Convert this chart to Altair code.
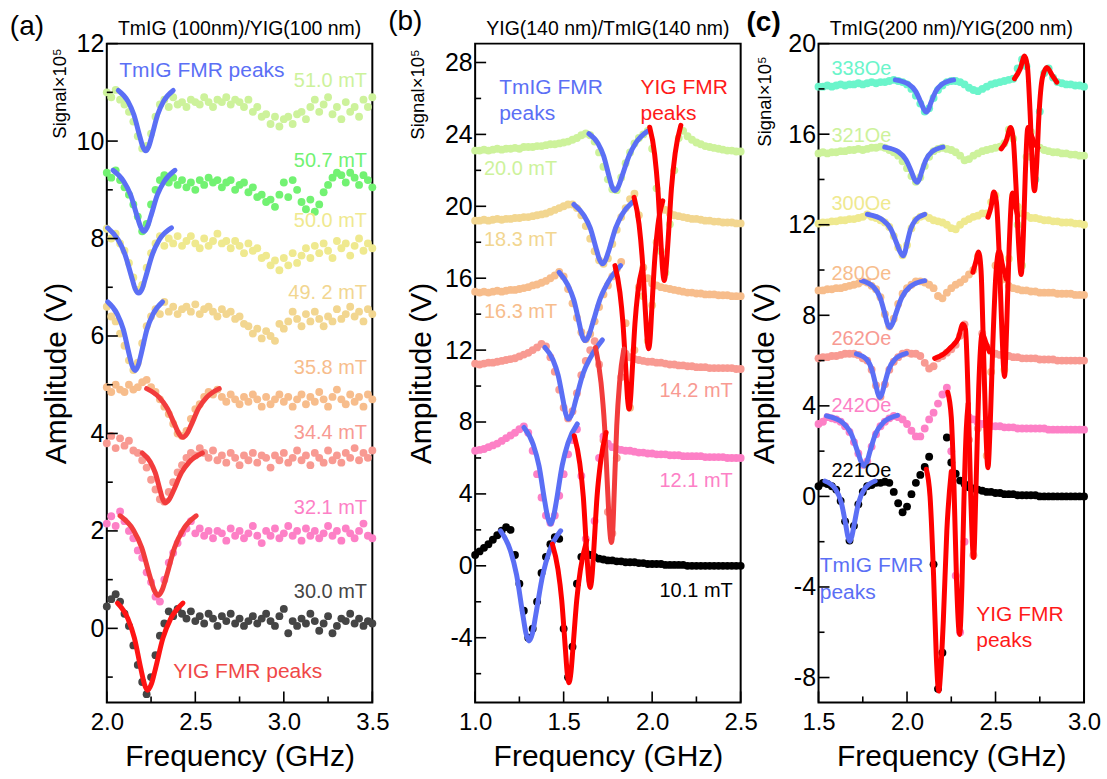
import altair as alt
import pandas as pd

FONT = "Liberation Sans"
BLUE = "#5b6ff5"
RED = "#ff0000"
RED_SOFT = "#f23c3c"
W, H = 266, 660

# ---------------- panel (a) ----------------
FREQ_A = [2.000, 2.025, 2.050, 2.075, 2.100, 2.125, 2.150, 2.175, 2.200, 2.225,
          2.250, 2.275, 2.300, 2.325, 2.350, 2.375, 2.400, 2.425, 2.450, 2.475,
          2.500, 2.525, 2.550, 2.575, 2.600, 2.625, 2.650, 2.675, 2.700, 2.725,
          2.750, 2.775, 2.800, 2.825, 2.850, 2.875, 2.900, 2.925, 2.950, 2.975,
          3.000, 3.025, 3.050, 3.075, 3.100, 3.125, 3.150, 3.175, 3.200, 3.225,
          3.250, 3.275, 3.300, 3.325, 3.350, 3.375, 3.400, 3.425, 3.450, 3.475,
          3.500]
A_510 = [11.0, 10.9, 11.05, 10.85, 10.75, 10.6, 10.4, 10.1, 9.85, 9.9,
         10.15, 10.5, 10.75, 10.85, 10.7, 10.9, 10.75, 10.8, 10.7, 10.85,
         10.8, 10.75, 10.9, 10.8, 10.7, 10.85, 10.8, 10.9, 10.75, 10.85,
         10.8, 10.7, 10.85, 10.6, 10.7, 10.5, 10.55, 10.35, 10.5, 10.3,
         10.45, 10.5, 10.35, 10.55, 10.6, 10.45, 10.7, 10.85, 10.6, 10.75,
         10.9, 10.55, 10.7, 10.45, 10.8, 10.6, 10.7, 10.5, 10.85, 10.7,
         10.9]
A_507 = [9.35, 9.25, 9.4, 9.2, 9.05, 8.9, 8.7, 8.45, 8.15, 8.3,
         8.7, 9.0, 9.2, 9.3, 9.15, 9.25, 9.1, 9.2, 9.05, 9.15,
         9.0, 9.2, 9.1, 9.25, 9.15, 9.2, 9.05, 9.15, 9.2, 9.0,
         9.1, 9.15, 8.95, 9.05, 8.85, 8.9, 8.75, 8.8, 8.65, 8.9,
         9.15, 8.85, 9.2, 9.0, 8.75, 8.6, 8.8, 8.55, 8.7, 8.95,
         9.1, 9.25, 9.35, 9.3, 9.15, 9.35, 9.25, 9.1, 9.3, 9.2,
         9.05]
A_500 = [8.2, 8.0, 8.1, 7.9, 7.75, 7.5, 7.2, 6.95, 7.05, 7.4,
         7.7, 7.9, 8.05, 7.85, 8.0, 7.9, 8.05, 7.85, 7.95, 8.05,
         7.9, 7.8, 8.0, 7.85, 7.95, 8.1, 7.9, 7.95, 7.8, 7.95,
         7.85, 7.7, 7.9, 7.75, 7.8, 7.6, 7.65, 7.45, 7.55, 7.35,
         7.6, 7.45, 7.7, 7.5, 7.65, 7.8, 7.6, 7.85, 7.7, 7.9,
         7.75, 7.6, 7.95, 7.8, 7.9, 7.65, 7.85, 8.0, 7.75, 7.9,
         7.8]
A_492 = [6.6, 6.4, 6.3, 6.05, 5.8, 5.5, 5.3, 5.45, 5.85, 6.2,
         6.4, 6.55, 6.45, 6.7, 6.5, 6.6, 6.45, 6.55, 6.6, 6.5,
         6.65, 6.45, 6.55, 6.6, 6.5, 6.4, 6.55, 6.45, 6.5, 6.35,
         6.4, 6.25, 6.2, 6.05, 6.15, 5.95, 6.1, 6.0, 5.9, 6.25,
         6.15, 6.3, 6.5, 6.35, 6.2, 6.45, 6.3, 6.5, 6.35, 6.2,
         6.4, 6.3, 6.55, 6.35, 6.45, 6.6, 6.4, 6.5, 6.3, 6.55,
         6.45]
A_358 = [4.95, 4.85, 5.0, 4.9, 4.85, 5.0, 4.9, 4.95, 5.05, 5.1,
         4.95, 4.85, 4.7, 4.55, 4.4, 4.2, 4.0, 3.95, 4.05, 4.3,
         4.5, 4.6, 4.75, 4.85, 4.8, 4.9, 4.75, 4.65, 4.8, 4.7,
         4.6, 4.75, 4.65, 4.8, 4.7, 4.55, 4.75, 4.6, 4.7, 4.8,
         4.65, 4.75, 4.55, 4.7, 4.8, 4.6, 4.75, 4.65, 4.85, 4.7,
         4.55, 4.75, 4.9, 4.7, 4.6, 4.8, 4.65, 4.75, 4.55, 4.8,
         4.7]
A_344 = [3.8, 3.95, 3.7, 3.9, 3.75, 3.85, 3.65, 3.6, 3.45, 3.3,
         3.05, 2.85, 2.65, 2.6, 2.8, 3.0, 3.2, 3.35, 3.5, 3.6,
         3.55, 3.7, 3.6, 3.5, 3.65, 3.45, 3.55, 3.4, 3.6, 3.5,
         3.35, 3.55, 3.45, 3.6, 3.4, 3.55, 3.5, 3.3, 3.55, 3.45,
         3.6, 3.4, 3.5, 3.65, 3.45, 3.55, 3.35, 3.6, 3.5, 3.4,
         3.65, 3.45, 3.55, 3.4, 3.6, 3.5, 3.7, 3.45, 3.6, 3.5,
         3.65]
A_321 = [2.15, 2.3, 2.1, 2.4, 2.2, 2.0, 1.85, 1.6, 1.45, 1.15,
         0.95, 0.65, 0.55, 1.0, 1.35, 1.55, 1.75, 1.95, 2.05, 2.2,
         1.95, 2.05, 1.9, 2.0, 1.85, 2.0, 1.95, 1.8, 2.05, 1.9,
         2.0, 1.85, 1.95, 2.1, 1.9, 1.75, 2.0, 1.9, 2.05, 1.85,
         1.95, 2.1, 1.9, 2.0, 1.8, 2.05, 1.9, 2.0, 1.85, 1.95,
         2.1, 1.9, 2.0, 1.8, 2.05, 1.95, 1.85, 2.0, 2.15, 1.9,
         1.85]
A_300 = [0.45, 0.6, 0.7, 0.55, 0.3, 0.05, -0.35, -0.75, -1.1, -1.35,
         -1.0, -0.55, -0.15, 0.1, 0.35, 0.25, 0.4, 0.3, 0.2, 0.35,
         0.15, 0.25, 0.1, 0.3, 0.2, 0.05, 0.25, 0.15, 0.3, 0.1,
         0.2, 0.05, 0.15, 0.25, 0.1, 0.2, 0.3, 0.15, 0.05, 0.25,
         0.4, -0.1, 0.15, 0.05, 0.2, 0.1, 0.3, 0.15, -0.05, 0.1,
         0.25, -0.1, 0.05, 0.2, 0.15, 0.3, 0.1, 0.2, 0.05, 0.15,
         0.1]
A_NAMES = ["51.0 mT", "50.7 mT", "50.0 mT", "49. 2 mT", "35.8 mT", "34.4 mT", "32.1 mT", "30.0 mT"]
A_COLORS = ["#cdf29b", "#72f272", "#efe98f", "#f2d690", "#f7bd8c", "#f89a92", "#fd80c6", "#454545"]
A_LABEL_F = [3.47] * 8
A_LABEL_V = [11.23, 9.59, 8.36, 6.89, 5.35, 4.0, 2.48, 0.74]

A1_F = [2.065, 2.119, 2.153, 2.186, 2.203, 2.22, 2.237, 2.254, 2.287, 2.321, 2.375]
A1_V = [11.04, 10.82, 10.54, 10.10, 9.89, 9.80, 9.89, 10.10, 10.54, 10.82, 11.04]
A2_F = [2.035, 2.096, 2.134, 2.172, 2.191, 2.21, 2.229, 2.248, 2.286, 2.324, 2.385]
A2_V = [9.40, 9.17, 8.90, 8.45, 8.24, 8.15, 8.24, 8.45, 8.90, 9.17, 9.40]
A3_F = [2.005, 2.063, 2.102, 2.141, 2.16, 2.18, 2.2, 2.219, 2.258, 2.297, 2.365]
A3_V = [8.22, 7.98, 7.68, 7.20, 6.97, 6.88, 6.97, 7.20, 7.68, 7.98, 8.22]
A4_F = [2.005, 2.059, 2.093, 2.126, 2.143, 2.16, 2.177, 2.194, 2.227, 2.261, 2.315]
A4_V = [6.70, 6.45, 6.14, 5.63, 5.39, 5.29, 5.39, 5.63, 6.14, 6.45, 6.70]
A5_F = [2.225, 2.296, 2.341, 2.386, 2.408, 2.43, 2.452, 2.475, 2.519, 2.564, 2.635]
A5_V = [4.92, 4.74, 4.52, 4.16, 3.99, 3.92, 3.99, 4.16, 4.52, 4.74, 4.92]
A6_F = [2.2, 2.245, 2.274, 2.302, 2.316, 2.33, 2.353, 2.376, 2.421, 2.467, 2.54]
A6_V = [3.60, 3.42, 3.19, 2.82, 2.65, 2.58, 2.65, 2.82, 3.19, 3.42, 3.60]
A7_F = [2.075, 2.15, 2.197, 2.243, 2.267, 2.29, 2.313, 2.337, 2.383, 2.43, 2.505]
A7_V = [2.31, 2.02, 1.66, 1.07, 0.79, 0.68, 0.79, 1.07, 1.66, 2.02, 2.31]
A8_F = [2.06, 2.119, 2.156, 2.193, 2.212, 2.23, 2.252, 2.274, 2.317, 2.361, 2.43]
A8_V = [0.52, 0.20, -0.20, -0.84, -1.14, -1.27, -1.14, -0.84, -0.20, 0.20, 0.52]

# ---------------- panel (b) ----------------
FREQ_B = [1.000, 1.025, 1.050, 1.075, 1.100, 1.125, 1.150, 1.175, 1.200, 1.225,
          1.250, 1.275, 1.300, 1.325, 1.350, 1.375, 1.400, 1.425, 1.450, 1.475,
          1.500, 1.525, 1.550, 1.575, 1.600, 1.625, 1.650, 1.675, 1.700, 1.725,
          1.750, 1.775, 1.800, 1.825, 1.850, 1.875, 1.900, 1.925, 1.950, 1.975,
          2.000, 2.025, 2.050, 2.075, 2.100, 2.125, 2.150, 2.175, 2.200, 2.225,
          2.250, 2.275, 2.300, 2.325, 2.350, 2.375, 2.400, 2.425, 2.450, 2.475,
          2.500]
B_200 = [23.1, 23.1, 23.15, 23.1, 23.15, 23.2, 23.15, 23.2, 23.2, 23.25,
         23.2, 23.3, 23.3, 23.3, 23.35, 23.35, 23.4, 23.45, 23.45, 23.5,
         23.55, 23.6, 23.7, 23.8, 23.95, 24.05, 23.95, 23.6, 23.0, 22.2,
         21.5, 20.95, 20.9, 21.6, 22.4, 23.0, 23.5, 23.8, 24.0, 24.2,
         23.2, 21.0, 17.5, 16.3, 19.0, 22.0, 23.8, 24.2, 23.9, 23.7,
         23.55, 23.45, 23.35, 23.3, 23.25, 23.2, 23.15, 23.1, 23.1, 23.05,
         23.05]
B_183 = [19.2, 19.2, 19.25, 19.2, 19.25, 19.3, 19.25, 19.3, 19.3, 19.35,
         19.35, 19.4, 19.4, 19.45, 19.5, 19.55, 19.6, 19.7, 19.8, 19.9,
         20.0, 20.1, 20.1, 19.9, 19.5, 18.9, 18.2, 17.5, 17.0, 16.8,
         17.1, 17.9, 18.7, 19.4, 19.9, 20.4, 20.7, 19.5, 15.0, 12.5,
         14.5, 18.0, 20.0, 19.8, 19.6, 19.5, 19.45, 19.4, 19.35, 19.3,
         19.3, 19.25, 19.2, 19.2, 19.15, 19.15, 19.1, 19.1, 19.1, 19.05,
         19.05]
B_163 = [15.25, 15.2, 15.25, 15.2, 15.25, 15.3, 15.25, 15.3, 15.35, 15.35,
         15.4, 15.45, 15.5, 15.6, 15.65, 15.75, 15.85, 16.0, 16.15, 16.35,
         16.1, 15.4, 14.6, 13.8, 13.0, 12.6, 12.9, 13.6, 14.4, 15.1,
         15.6, 16.1, 16.5, 16.9, 13.5, 8.8, 12.0, 15.5, 16.6, 16.0,
         15.7, 15.6, 15.5, 15.45, 15.4, 15.35, 15.3, 15.25, 15.2, 15.2,
         15.15, 15.15, 15.1, 15.1, 15.1, 15.05, 15.05, 15.05, 15.0, 15.0,
         15.0]
B_142 = [11.25, 11.2, 11.25, 11.3, 11.3, 11.35, 11.4, 11.45, 11.5, 11.55,
         11.65, 11.75, 11.85, 12.0, 12.15, 12.35, 12.2, 11.6, 10.8, 9.8,
         8.8, 8.2, 8.6, 9.6, 10.6, 11.4, 12.0, 12.5, 11.2, 7.0,
         3.0, 1.8, 6.0, 10.5, 11.8, 11.6, 11.5, 11.45, 11.4, 11.35,
         11.35, 11.3, 11.3, 11.25, 11.2, 11.2, 11.15, 11.15, 11.1, 11.1,
         11.05, 11.05, 11.05, 11.0, 11.0, 11.0, 11.0, 11.0, 11.0, 10.95,
         10.95]
B_121 = [6.4, 6.45, 6.5, 6.6, 6.7, 6.8, 6.95, 7.1, 7.25, 7.4,
         7.6, 7.75, 7.4, 6.4, 5.1, 3.8, 2.8, 2.4, 2.8, 3.9,
         5.1, 6.2, 7.0, 7.6, 5.0, 1.5, -0.8, 2.5, 6.0, 7.2,
         6.8, 6.6, 6.5, 6.45, 6.4, 6.4, 6.35, 6.3, 6.3, 6.25,
         6.25, 6.2, 6.2, 6.2, 6.15, 6.15, 6.15, 6.1, 6.1, 6.1,
         6.1, 6.1, 6.05, 6.05, 6.05, 6.05, 6.05, 6.0, 6.0, 6.0,
         6.0]
B_101 = [0.6, 0.8, 1.0, 1.2, 1.45, 1.7, 1.95, 2.15, 2.0, 0.6,
         -1.0, -2.5, -4.0, -3.5, -2.0, -0.4, 0.5, 1.2, 1.6, 1.5,
         -3.5, -6.2, -4.5, -1.0, 0.5, 0.75, 0.6, 0.5, 0.4, 0.35,
         0.3, 0.3, 0.25, 0.25, 0.2, 0.2, 0.2, 0.15, 0.15, 0.1,
         0.1, 0.1, 0.1, 0.05, 0.05, 0.05, 0.05, 0.05, 0.0, 0.0,
         0.0, 0.0, 0.0, 0.0, 0.0, 0.0, 0.0, 0.0, 0.0, 0.0,
         0.0]
B_NAMES = ["20.0 mT", "18.3 mT", "16.3 mT", "14.2 mT", "12.1 mT", "10.1 mT"]
B_COLORS = ["#cdf29b", "#f2d690", "#f7bd8c", "#f89a92", "#fd80c6", "#000000"]
B_LABEL_F = [1.05, 1.05, 1.05, 2.455, 2.455, 2.455]
B_LABEL_V = [22.1, 18.1, 14.1, 9.74, 4.73, -1.39]
B_LABEL_ALIGN = ["left", "left", "left", "right", "right", "right"]

B1_TF = [1.643, 1.694, 1.726, 1.757, 1.773, 1.789, 1.809, 1.829, 1.869, 1.909, 1.973]
B1_TV = [24.04, 23.5, 22.8, 21.65, 21.1, 20.88, 21.1, 21.65, 22.8, 23.55, 24.18]
B2_TF = [1.558, 1.614, 1.65, 1.685, 1.702, 1.72, 1.738, 1.757, 1.794, 1.83, 1.889]
B2_TV = [20.1, 19.5, 18.8, 17.6, 17.05, 16.8, 17.05, 17.6, 18.8, 19.55, 20.23]
B3_TF = [1.474, 1.525, 1.557, 1.588, 1.604, 1.62, 1.642, 1.664, 1.708, 1.752, 1.822]
B3_TV = [16.33, 15.6, 14.8, 13.5, 12.8, 12.53, 12.8, 13.5, 14.9, 15.8, 16.7]
B4_TF = [1.394, 1.44, 1.469, 1.497, 1.512, 1.526, 1.547, 1.568, 1.61, 1.652, 1.719]
B4_TV = [12.15, 11.45, 10.6, 9.2, 8.45, 8.17, 8.45, 9.2, 10.7, 11.6, 12.57]
B5_TF = [1.276, 1.328, 1.361, 1.393, 1.41, 1.426, 1.442, 1.459, 1.492, 1.525, 1.577]
B5_TV = [7.7, 6.75, 5.55, 3.6, 2.7, 2.32, 2.7, 3.6, 5.6, 6.85, 7.89]
B6_TF = [1.143, 1.199, 1.234, 1.269, 1.287, 1.304, 1.324, 1.343, 1.382, 1.421, 1.483]
B6_TV = [1.95, 0.85, -0.5, -2.7, -3.75, -4.18, -3.75, -2.7, -0.5, 0.85, 1.95]
B1_YF = [1.986, 2.014, 2.032, 2.05, 2.059, 2.068, 2.078, 2.089, 2.109, 2.13, 2.162]
B1_YV = [24.4, 22.9, 21.0, 17.9, 16.5, 15.87, 16.5, 17.95, 21.0, 22.95, 24.5]
B2_YF = [1.898, 1.926, 1.944, 1.962, 1.971, 1.98, 1.989, 1.997, 2.015, 2.032, 2.06]
B2_YV = [20.5, 19.0, 17.1, 14.1, 12.7, 12.08, 12.7, 14.1, 17.1, 18.9, 20.3]
B3_YF = [1.79, 1.818, 1.835, 1.853, 1.861, 1.87, 1.878, 1.886, 1.903, 1.919, 1.945]
B3_YV = [16.7, 15.2, 13.5, 10.6, 9.3, 8.72, 9.3, 10.6, 13.5, 15.2, 16.6]
B4_YF = [1.68, 1.711, 1.731, 1.75, 1.76, 1.77, 1.778, 1.785, 1.8, 1.816, 1.84]
B4_YV = [12.15, 10.2, 7.8, 3.9, 2.05, 1.3, 2.05, 3.9, 7.8, 10.2, 12.06]
B5_YF = [1.56, 1.591, 1.611, 1.63, 1.64, 1.65, 1.66, 1.67, 1.689, 1.709, 1.74]
B5_YV = [7.24, 5.7, 3.85, 0.8, -0.6, -1.2, -0.6, 0.85, 3.9, 5.8, 7.42]
B6_YF = [1.436, 1.468, 1.489, 1.51, 1.52, 1.53, 1.541, 1.552, 1.574, 1.595, 1.63]
B6_YV = [1.21, -0.2, -1.9, -4.65, -5.95, -6.5, -5.95, -4.65, -1.9, -0.2, 1.4]

# ---------------- panel (c) ----------------
FREQ_C = [1.500, 1.525, 1.550, 1.575, 1.600, 1.625, 1.650, 1.675, 1.700, 1.725,
          1.750, 1.775, 1.800, 1.825, 1.850, 1.875, 1.900, 1.925, 1.950, 1.975,
          2.000, 2.025, 2.050, 2.075, 2.100, 2.125, 2.150, 2.175, 2.200, 2.225,
          2.250, 2.275, 2.300, 2.325, 2.350, 2.375, 2.400, 2.425, 2.450, 2.475,
          2.500, 2.525, 2.550, 2.575, 2.600, 2.625, 2.650, 2.675, 2.700, 2.725,
          2.750, 2.775, 2.800, 2.825, 2.850, 2.875, 2.900, 2.925, 2.950, 2.975,
          3.000]
C_338 = [18.1, 18.1, 18.15, 18.1, 18.15, 18.2, 18.15, 18.2, 18.2, 18.25,
         18.2, 18.25, 18.3, 18.25, 18.3, 18.3, 18.35, 18.4, 18.35, 18.3,
         18.2, 18.0, 17.7, 17.35, 17.0, 17.15, 17.6, 17.95, 18.15, 18.3,
         18.35, 18.35, 18.3, 18.2, 18.05, 17.95, 17.9, 18.0, 18.1, 18.2,
         18.25, 18.3, 18.35, 18.4, 18.45, 18.9, 19.3, 19.0, 15.0, 14.0,
         17.0, 18.7, 18.9, 18.5, 18.3, 18.25, 18.2, 18.2, 18.15, 18.15,
         18.1]
C_321 = [15.15, 15.2, 15.15, 15.2, 15.2, 15.25, 15.25, 15.3, 15.3, 15.35,
         15.3, 15.35, 15.4, 15.4, 15.45, 15.4, 15.3, 15.2, 15.05, 14.8,
         14.5, 14.15, 13.9, 14.1, 14.6, 15.0, 15.25, 15.35, 15.4, 15.35,
         15.3, 15.2, 15.05, 14.85, 14.9, 15.05, 15.15, 15.25, 15.3, 15.35,
         15.4, 15.45, 15.6, 16.2, 15.8, 12.0, 10.2, 15.0, 16.1, 15.6,
         15.4, 15.3, 15.25, 15.2, 15.2, 15.15, 15.15, 15.1, 15.1, 15.05,
         15.05]
C_300 = [12.05, 12.1, 12.1, 12.15, 12.15, 12.2, 12.2, 12.25, 12.25, 12.3,
         12.35, 12.45, 12.35, 12.3, 12.2, 12.1, 11.9, 11.5, 11.0, 10.65,
         11.1, 11.85, 12.2, 12.35, 12.4, 12.3, 12.2, 12.15, 12.1, 12.0,
         11.85, 11.8, 12.0, 12.15, 12.25, 12.35, 12.4, 12.5, 12.5, 13.0,
         13.3, 9.5, 5.6, 10.5, 13.3, 12.8, 12.5, 12.4, 12.3, 12.3,
         12.25, 12.2, 12.2, 12.15, 12.15, 12.1, 12.1, 12.1, 12.05, 12.05,
         12.0]
C_280 = [9.1, 9.1, 9.15, 9.15, 9.2, 9.2, 9.25, 9.3, 9.35, 9.4,
         9.5, 9.45, 9.3, 9.15, 8.8, 8.05, 7.5, 7.85, 8.5, 8.95,
         9.2, 9.35, 9.5, 9.5, 9.45, 9.35, 9.2, 8.85, 8.75, 9.0,
         9.2, 9.35, 9.45, 9.6, 9.8, 10.0, 10.6, 6.5, 1.8, 5.5,
         10.2, 10.6, 9.6, 9.3, 9.2, 9.15, 9.1, 9.1, 9.05, 9.05,
         9.0, 9.0, 9.0, 9.0, 8.95, 8.95, 8.95, 8.95, 8.9, 8.9,
         8.9]
C_262 = [6.1, 6.15, 6.15, 6.2, 6.2, 6.25, 6.3, 6.3, 6.3, 6.25,
         6.1, 6.0, 5.6, 4.9, 4.4, 4.95, 5.6, 5.95, 6.15, 6.3,
         6.35, 6.3, 6.3, 6.2, 5.9, 5.65, 5.75, 6.1, 6.2, 6.35,
         6.5, 6.7, 7.1, 7.6, 2.5, -2.6, 3.0, 7.2, 6.6, 6.4,
         6.3, 6.25, 6.2, 6.2, 6.15, 6.15, 6.1, 6.1, 6.1, 6.1,
         6.05, 6.05, 6.05, 6.05, 6.0, 6.0, 6.0, 6.0, 6.0, 6.0,
         6.0]
C_242 = [3.2, 3.3, 3.5, 3.45, 3.4, 3.3, 3.1, 2.85, 2.4, 1.9,
         1.4, 1.55, 2.2, 2.75, 3.1, 3.3, 3.45, 3.55, 3.5, 3.4,
         3.2, 2.9, 2.65, 2.65, 3.0, 3.4, 3.7, 4.1, 4.5, 4.8,
         2.0, -3.5, -6.0, -2.0, 3.5, 3.4, 3.25, 3.2, 3.15, 3.1,
         3.1, 3.1, 3.05, 3.05, 3.05, 3.0, 3.0, 3.0, 3.0, 3.0,
         3.0, 3.0, 2.95, 2.95, 2.95, 2.95, 2.95, 2.95, 2.95, 2.95,
         2.95]
C_221 = [0.45, 0.6, 0.55, 0.45, 0.3, -0.2, -1.1, -1.95, -1.3, -0.35,
         0.2, 0.45, 0.5, 0.6, 0.6, 0.65, 0.6, 0.2, -0.3, -0.7,
         -0.45, 0.1, 0.6, 0.95, 1.3, 1.75, -3.0, -8.5, -6.9, 2.6,
         1.5, 1.0, 0.7, 0.55, 0.4, 0.35, 0.3, 0.25, 0.2, 0.2,
         0.15, 0.15, 0.1, 0.1, 0.1, 0.05, 0.05, 0.05, 0.05, 0.05,
         0.0, 0.0, 0.0, 0.0, 0.0, 0.0, 0.0, 0.0, 0.0, 0.0,
         0.0]
C_NAMES = ["338Oe", "321Oe", "300Oe", "280Oe", "262Oe", "242Oe", "221Oe"]
C_COLORS = ["#6bf5cb", "#cdf29b", "#efe98f", "#f7bd8c", "#f89a92", "#fd80c6", "#000000"]
C_LABEL_F = [1.573] * 7
C_LABEL_V = [18.9, 15.9, 12.9, 9.82, 6.95, 3.98, 1.1]

C1_TF = [1.934, 2.009, 2.049, 2.079, 2.094, 2.109, 2.122, 2.135, 2.162, 2.197, 2.263]
C1_TV = [18.4, 18.21, 17.89, 17.39, 17.11, 16.98, 17.11, 17.39, 17.89, 18.21, 18.4]
C2_TF = [1.874, 1.952, 1.994, 2.026, 2.041, 2.057, 2.07, 2.082, 2.107, 2.14, 2.203]
C2_TV = [15.43, 15.22, 14.87, 14.32, 14.02, 13.88, 14.02, 14.32, 14.87, 15.22, 15.43]
C3_TF = [1.776, 1.863, 1.909, 1.943, 1.961, 1.978, 1.989, 1.999, 2.02, 2.048, 2.1]
C3_TV = [12.46, 12.21, 11.8, 11.15, 10.8, 10.63, 10.8, 11.15, 11.8, 12.21, 12.46]
C4_TF = [1.743, 1.811, 1.848, 1.875, 1.888, 1.902, 1.919, 1.936, 1.97, 2.015, 2.1]
C4_TV = [9.53, 9.25, 8.78, 8.05, 7.65, 7.46, 7.65, 8.05, 8.78, 9.25, 9.53]
C5_TF = [1.714, 1.771, 1.801, 1.823, 1.835, 1.846, 1.859, 1.872, 1.897, 1.932, 1.996]
C5_TV = [6.3, 6.06, 5.61, 4.93, 4.55, 4.37, 4.55, 4.93, 5.61, 6.06, 6.32]
C6_TF = [1.545, 1.636, 1.685, 1.721, 1.74, 1.758, 1.774, 1.79, 1.822, 1.865, 1.946]
C6_TV = [3.56, 3.26, 2.76, 1.97, 1.54, 1.34, 1.54, 1.97, 2.76, 3.26, 3.58]
C7_TF = [1.536, 1.596, 1.629, 1.653, 1.665, 1.677, 1.689, 1.702, 1.726, 1.759, 1.82]
C7_TV = [0.68, 0.32, -0.28, -1.22, -1.74, -1.98, -1.74, -1.22, -0.28, 0.32, 0.68]
C1_YF = [2.607, 2.64, 2.664, 2.68, 2.695, 2.708, 2.72, 2.732, 2.745, 2.765, 2.79, 2.82, 2.846]
C1_YV = [18.45, 18.9, 19.45, 19.0, 17.0, 14.6, 13.5, 14.6, 16.8, 18.5, 18.95, 18.6, 18.3]
C2_YF = [2.532, 2.56, 2.585, 2.6, 2.615, 2.63, 2.645, 2.657, 2.668, 2.683, 2.7, 2.72, 2.74]
C2_YV = [15.35, 15.7, 16.3, 15.8, 13.8, 11.2, 9.8, 11.5, 14.2, 16.3, 16.0, 15.6, 15.4]
C3_YF = [2.457, 2.475, 2.49, 2.505, 2.52, 2.535, 2.551, 2.563, 2.577, 2.595, 2.61, 2.625]
C3_YV = [12.33, 12.8, 13.45, 13.0, 10.8, 7.5, 5.3, 7.5, 11.0, 13.4, 12.9, 12.4]
C4_YF = [2.372, 2.39, 2.404, 2.418, 2.432, 2.445, 2.457, 2.47, 2.485, 2.502, 2.52, 2.54, 2.56]
C4_YV = [9.9, 10.4, 10.8, 10.0, 6.5, 3.0, 1.27, 3.2, 6.8, 9.8, 10.85, 10.2, 9.6]
C5_YF = [2.156, 2.2, 2.25, 2.29, 2.315, 2.33, 2.345, 2.36, 2.376, 2.39, 2.405, 2.425, 2.445, 2.465]
C5_YV = [6.1, 6.25, 6.6, 7.0, 7.6, 7.4, 4.5, 0.0, -2.7, 0.5, 4.8, 7.2, 6.8, 6.4]
C6_YF = [2.23, 2.25, 2.265, 2.28, 2.297, 2.31, 2.322, 2.335, 2.345]
C6_YV = [4.6, 3.5, 0.5, -3.8, -6.1, -4.0, 0.0, 3.0, 4.1]
C7_YF = [2.109, 2.13, 2.15, 2.165, 2.179, 2.192, 2.205, 2.225, 2.25]
C7_YV = [1.2, 0.0, -3.5, -7.0, -8.6, -7.5, -5.5, -1.5, 1.1]


def build_panel(freq, traces, fits, xdom, ydom, xmaj, xmin, ymaj, ymin,
                labels, notes, letter, letter_xy, letter_bold, title, signal_xy, ytitle_x):
    xs = alt.Scale(domain=xdom, nice=False, zero=False)
    ys = alt.Scale(domain=ydom, nice=False, zero=False)
    ax_x = alt.Axis(
        values=xmaj, format=".1f", title="Frequency (GHz)", labelFontSize=24,
        labelPadding=8, ticks=False, tickSize=0, domain=False, grid=False,
        labelFlush=False, labelOverlap=False, labelColor="black", labelFont=FONT,
        titleFontSize=30, titleFontWeight="normal", titleColor="black", titleFont=FONT,
        titleX=W / 2, titleY=54, titleBaseline="middle", titleAlign="center")
    ax_y = alt.Axis(
        values=ymaj, labelExpr="'' + datum.value", title="Amplitude (V)",
        labelFontSize=25, labelPadding=3, ticks=False, tickSize=0, domain=False,
        grid=False, labelFlush=False, labelOverlap=False, labelColor="black", labelFont=FONT,
        titleFontSize=30, titleFontWeight="normal", titleColor="black", titleFont=FONT,
        titleX=ytitle_x, titleY=H / 2, titleAngle=270, titleBaseline="middle",
        titleAlign="center")

    def X(field):
        return alt.X(field, scale=xs, axis=ax_x)

    def Y(field):
        return alt.Y(field, scale=ys, axis=ax_y)

    rows = []
    for name, vals, color in traces:
        for f, v in zip(freq, vals):
            rows.append({"f": f, "v": v, "c": color, "k": name})
    pts = alt.Chart(pd.DataFrame(rows)).mark_circle(size=62, opacity=1).encode(
        x=X("f:Q"), y=Y("v:Q"), color=alt.Color("c:N", scale=None))

    lrows = []
    for g, (fs, vs, color) in enumerate(fits):
        for o, (f, v) in enumerate(zip(fs, vs)):
            lrows.append({"f": f, "v": v, "c": color, "g": g, "o": o})
    lines = alt.Chart(pd.DataFrame(lrows)).mark_line(
        strokeWidth=5, interpolate="monotone", strokeCap="round", strokeJoin="round"
    ).encode(
        x=X("f:Q"), y=Y("v:Q"),
        color=alt.Color("c:N", scale=None), detail="g:N", order="o:Q")

    layers = [pts, lines]
    for vals, ln in ((ymaj, 11), (ymin, 6)):
        layers.append(alt.Chart(pd.DataFrame({"v": vals})).mark_rule(color="black", strokeWidth=1.6).encode(
            y=Y("v:Q"), x=alt.value(0), x2=alt.value(ln)))
    for vals, ln in ((xmaj, 11), (xmin, 6)):
        layers.append(alt.Chart(pd.DataFrame({"f": vals})).mark_rule(color="black", strokeWidth=1.6).encode(
            x=X("f:Q"), y=alt.value(H), y2=alt.value(H - ln)))

    for items, size in ((labels, 20), (notes, 21)):
        df = pd.DataFrame(items, columns=["s", "f", "v", "c", "a"])
        for align in ("left", "right"):
            sub = df[df["a"] == align]
            if len(sub) == 0:
                continue
            layers.append(alt.Chart(sub).mark_text(
                align=align, baseline="middle", fontSize=size, font=FONT).encode(
                x=X("f:Q"), y=Y("v:Q"), text="s:N",
                color=alt.Color("c:N", scale=None)))

    layers.append(alt.Chart(pd.DataFrame({"s": [letter]})).mark_text(
        fontSize=28, align="center", baseline="middle", font=FONT,
        fontWeight="bold" if letter_bold else "normal", color="black").encode(
        x=alt.value(letter_xy[0]), y=alt.value(letter_xy[1]), text="s:N"))
    layers.append(alt.Chart(pd.DataFrame({"s": [title]})).mark_text(
        fontSize=19.5, align="center", baseline="alphabetic", font=FONT, color="black").encode(
        x=alt.value(W / 2), y=alt.value(-9), text="s:N"))
    layers.append(alt.Chart(pd.DataFrame({"s": ["Signal\u00d710\u2075"]})).mark_text(
        fontSize=18.5, align="center", baseline="middle", angle=270, font=FONT, color="black").encode(
        x=alt.value(signal_xy[0]), y=alt.value(signal_xy[1]), text="s:N"))

    return alt.layer(*layers).properties(width=W, height=H)


# ---- assemble panel (a)
a_traces = list(zip(A_NAMES, [A_510, A_507, A_500, A_492, A_358, A_344, A_321, A_300], A_COLORS))
a_fits = [(A1_F, A1_V, BLUE), (A2_F, A2_V, BLUE), (A3_F, A3_V, BLUE), (A4_F, A4_V, BLUE),
          (A5_F, A5_V, RED_SOFT), (A6_F, A6_V, RED_SOFT), (A7_F, A7_V, RED_SOFT), (A8_F, A8_V, "#ff1414")]
a_labels = [(n, f, v, c, "right") for n, f, v, c in zip(A_NAMES, A_LABEL_F, A_LABEL_V, A_COLORS)]
a_notes = [("TmIG FMR peaks", 2.07, 11.43, BLUE, "left"),
           ("YIG FMR peaks", 2.375, -0.9, "#f04848", "left")]
panel_a = build_panel(FREQ_A, a_traces, a_fits, [2.0, 3.5], [-1.52, 12.0],
                      [2.0, 2.5, 3.0, 3.5], [2.25, 2.75, 3.25],
                      [0, 2, 4, 6, 8, 10, 12], [-1, 1, 3, 5, 7, 9, 11],
                      a_labels, a_notes, "(a)", (-80, -17), False,
                      "TmIG  (100nm)/YIG(100 nm)", (-47, 50), -50)

# ---- panel (b)
b_traces = list(zip(B_NAMES, [B_200, B_183, B_163, B_142, B_121, B_101], B_COLORS))
b_fits = [(B1_TF, B1_TV, BLUE), (B2_TF, B2_TV, BLUE), (B3_TF, B3_TV, BLUE),
          (B4_TF, B4_TV, BLUE), (B5_TF, B5_TV, BLUE), (B6_TF, B6_TV, BLUE),
          (B1_YF, B1_YV, RED), (B2_YF, B2_YV, RED), (B3_YF, B3_YV, RED),
          (B4_YF, B4_YV, RED_SOFT), (B5_YF, B5_YV, RED), (B6_YF, B6_YV, RED)]
b_labels = [(n, f, v, c, a) for n, f, v, c, a in zip(B_NAMES, B_LABEL_F, B_LABEL_V, B_COLORS, B_LABEL_ALIGN)]
b_notes = [("TmIG FMR", 1.136, 26.6, BLUE, "left"), ("peaks", 1.136, 25.15, BLUE, "left"),
           ("YIG FMR", 1.934, 26.6, "#ff1a1a", "left"), ("peaks", 1.934, 25.15, "#ff1a1a", "left")]
panel_b = build_panel(FREQ_B, b_traces, b_fits, [1.0, 2.5], [-7.6, 29.05],
                      [1.0, 1.5, 2.0, 2.5], [1.25, 1.75, 2.25],
                      [-4, 0, 4, 8, 12, 16, 20, 24, 28], [-6, -2, 2, 6, 10, 14, 18, 22, 26],
                      b_labels, b_notes, "(b)", (-70, -22), False,
                      "YIG(140 nm)/TmIG(140 nm)", (-57, 51), -54)

# ---- panel (c)
c_traces = list(zip(C_NAMES, [C_338, C_321, C_300, C_280, C_262, C_242, C_221], C_COLORS))
c_fits = [(C1_TF, C1_TV, BLUE), (C2_TF, C2_TV, BLUE), (C3_TF, C3_TV, BLUE), (C4_TF, C4_TV, BLUE),
          (C5_TF, C5_TV, BLUE), (C6_TF, C6_TV, BLUE), (C7_TF, C7_TV, BLUE),
          (C1_YF, C1_YV, RED), (C2_YF, C2_YV, RED), (C3_YF, C3_YV, RED), (C4_YF, C4_YV, RED),
          (C5_YF, C5_YV, RED), (C6_YF, C6_YV, RED), (C7_YF, C7_YV, RED)]
c_labels = [(n, f, v, c, "left") for n, f, v, c in zip(C_NAMES, C_LABEL_F, C_LABEL_V, C_COLORS)]
c_notes = [("TmIG FMR", 1.507, -3.08, BLUE, "left"), ("peaks", 1.507, -4.26, BLUE, "left"),
           ("YIG FMR", 2.391, -5.22, "#ff1a1a", "left"), ("peaks", 2.391, -6.4, "#ff1a1a", "left")]
panel_c = build_panel(FREQ_C, c_traces, c_fits, [1.5, 3.0], [-9.1, 20.0],
                      [1.5, 2.0, 2.5, 3.0], [1.75, 2.25, 2.75],
                      [-8, -4, 0, 4, 8, 12, 16, 20], [-6, -2, 2, 6, 10, 14, 18],
                      c_labels, c_notes, "(c)", (-55, -21), True,
                      "TmIG(200 nm)/YIG(200 nm)", (-54, 58), -54)

chart = alt.hconcat(
    panel_a,
    alt.hconcat(panel_b, panel_c, spacing=78, bounds="flush"),
    spacing=103, bounds="flush",
).properties(
    padding={"left": 8, "top": 6, "right": 5, "bottom": 5}
).configure(
    font=FONT
).configure_view(
    stroke="black", strokeWidth=2
)

chart.save("out.html", embed_options={"renderer": "svg", "actions": False})
